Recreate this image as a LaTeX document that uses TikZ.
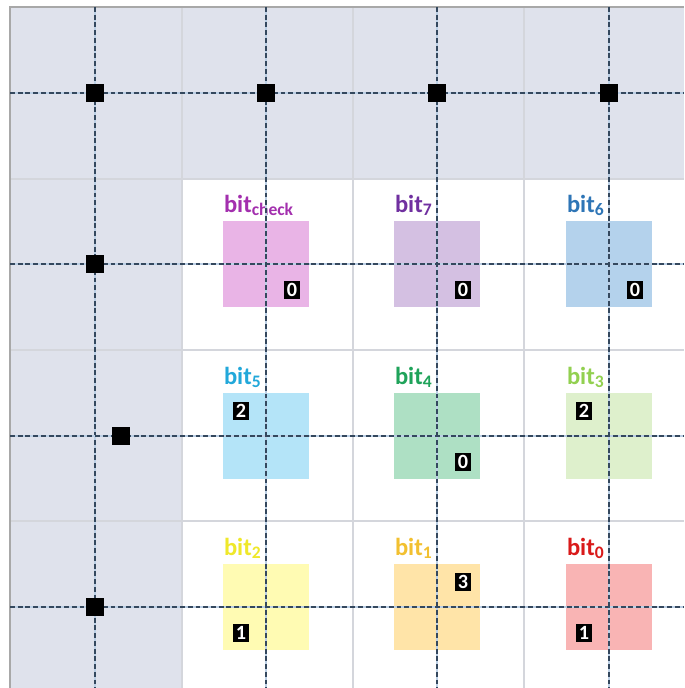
\documentclass[tikz,border=0pt]{standalone}
\usepackage{fontspec}
\setmainfont{Carlito}
\usepackage{tikz}
\usetikzlibrary{calc}
\definecolor{gridbg}{HTML}{DFE2EC}
\definecolor{gridline}{HTML}{D4D6DC}
\definecolor{frameline}{HTML}{A8A8A8}
\definecolor{guidedash}{HTML}{34485E}
\definecolor{guidehalo}{HTML}{BCD0E6}
\definecolor{labcheck}{HTML}{A32FAE}
\definecolor{sqcheck}{HTML}{E9B4E6}
\definecolor{labseven}{HTML}{7030A0}
\definecolor{sqseven}{HTML}{D4C0E2}
\definecolor{labsix}{HTML}{2E75B6}
\definecolor{sqsix}{HTML}{B4D2EC}
\definecolor{labfive}{HTML}{22A8DA}
\definecolor{sqfive}{HTML}{B4E4F8}
\definecolor{labfour}{HTML}{1FA35A}
\definecolor{sqfour}{HTML}{AEE0C4}
\definecolor{labthree}{HTML}{92D050}
\definecolor{sqthree}{HTML}{DEF0CC}
\definecolor{labtwo}{HTML}{EFE82A}
\definecolor{sqtwo}{HTML}{FFFBB3}
\definecolor{labone}{HTML}{F2C030}
\definecolor{sqone}{HTML}{FFE4A8}
\definecolor{labzero}{HTML}{D91A1A}
\definecolor{sqzero}{HTML}{F9B4B4}
\newcommand{\bitname}[1]{bit\raisebox{-1.8pt}{\fontsize{10}{11}\selectfont #1}}

\begin{document}
\begin{tikzpicture}[x=0.02cm, y=-0.02cm, every node/.style={font=\bfseries}]
    \tikzstyle{bitsq}=[minimum size=1.72cm,inner sep=0pt]
    \tikzstyle{bitlab}=[anchor=base west,inner sep=0pt,font=\bfseries\fontsize{14}{16}\selectfont]
    \tikzstyle{badge}=[fill=black,text=white,minimum width=0.33cm,minimum height=0.35cm,inner sep=0pt,font=\bfseries\fontsize{11.5}{12}\selectfont]
    \tikzstyle{tap}=[fill=black,minimum size=0.35cm,inner sep=0pt]
    \useasboundingbox (0,0) rectangle (684,688);
    % board
    \fill[white] (0,0) rectangle (684,688);
    \fill[gridbg] (10,7) rectangle (684,179);
    \fill[gridbg] (10,179) rectangle (182,688);
    \foreach \x in {182,353,524} \draw[gridline,line width=0.8pt] (\x,7) -- (\x,688);
    \foreach \y in {179,350,521} \draw[gridline,line width=0.8pt] (10,\y) -- (684,\y);
    \draw[frameline,line width=1.2pt] (10,688) -- (10,7) -- (684,7);
    % bit squares
    \node[bitsq,fill=sqcheck] (sqcheck) at (266,264) {};
    \node[bitsq,fill=sqseven] (sqseven) at (437,264) {};
    \node[bitsq,fill=sqsix] (sqsix) at (609,264) {};
    \node[bitsq,fill=sqfive] (sqfive) at (266,436) {};
    \node[bitsq,fill=sqfour] (sqfour) at (437,436) {};
    \node[bitsq,fill=sqthree] (sqthree) at (609,436) {};
    \node[bitsq,fill=sqtwo] (sqtwo) at (266,607) {};
    \node[bitsq,fill=sqone] (sqone) at (437,607) {};
    \node[bitsq,fill=sqzero] (sqzero) at (609,607) {};
    % labels
    \node[bitlab,text=labcheck] (labcheck) at ([shift={(1,-8)}]sqcheck.north west) {\bitname{check}};
    \node[bitlab,text=labseven] (labseven) at ([shift={(1,-8)}]sqseven.north west) {\bitname{7}};
    \node[bitlab,text=labsix] (labsix) at ([shift={(1,-8)}]sqsix.north west) {\bitname{6}};
    \node[bitlab,text=labfive] (labfive) at ([shift={(1,-8)}]sqfive.north west) {\bitname{5}};
    \node[bitlab,text=labfour] (labfour) at ([shift={(1,-8)}]sqfour.north west) {\bitname{4}};
    \node[bitlab,text=labthree] (labthree) at ([shift={(1,-8)}]sqthree.north west) {\bitname{3}};
    \node[bitlab,text=labtwo] (labtwo) at ([shift={(1,-8)}]sqtwo.north west) {\bitname{2}};
    \node[bitlab,text=labone] (labone) at ([shift={(1,-8)}]sqone.north west) {\bitname{1}};
    \node[bitlab,text=labzero] (labzero) at ([shift={(1,-8)}]sqzero.north west) {\bitname{0}};
    % guide lines
    \foreach \x in {95,266,437,609} {
        \draw[guidehalo,line width=1.6pt] (\x,7) -- (\x,688);
        \draw[guidedash,line width=0.6pt,dash pattern=on 2.8pt off 1.6pt] (\x,7) -- (\x,688);
    }
    \foreach \y in {93,264,436,607} {
        \draw[guidehalo,line width=1.6pt] (10,\y) -- (684,\y);
        \draw[guidedash,line width=0.6pt,dash pattern=on 2.8pt off 1.6pt] (10,\y) -- (684,\y);
    }
    % taps
    \node[tap] (tapa) at (95,93) {};
    \node[tap] (tapb) at (266,93) {};
    \node[tap] (tapc) at (437,93) {};
    \node[tap] (tapd) at (609,93) {};
    \node[tap] (tape) at (95,264) {};
    \node[tap] (tapf) at (121,436) {};
    \node[tap] (tapg) at (95,607) {};
    % counts
    \node[badge] (cntcheck) at ([shift={(26,26)}]sqcheck.center) {0};
    \node[badge] (cntseven) at ([shift={(26,26)}]sqseven.center) {0};
    \node[badge] (cntsix) at ([shift={(26,26)}]sqsix.center) {0};
    \node[badge] (cntfive) at ([shift={(-25,-25)}]sqfive.center) {2};
    \node[badge] (cntfour) at ([shift={(26,26)}]sqfour.center) {0};
    \node[badge] (cntthree) at ([shift={(-25,-25)}]sqthree.center) {2};
    \node[badge] (cnttwo) at ([shift={(-25,26)}]sqtwo.center) {1};
    \node[badge] (cntone) at ([shift={(26,-25)}]sqone.center) {3};
    \node[badge] (cntzero) at ([shift={(-25,26)}]sqzero.center) {1};
\end{tikzpicture}
\end{document}
